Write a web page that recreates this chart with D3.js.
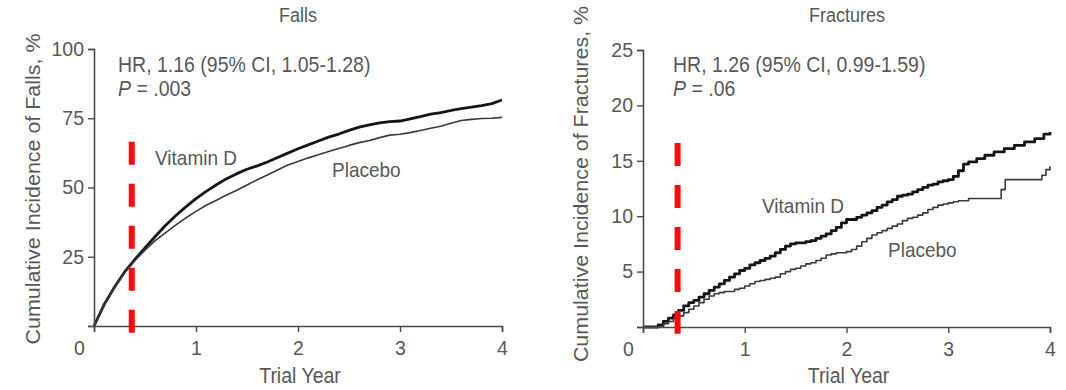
<!DOCTYPE html>
<html>
<head>
<meta charset="utf-8">
<script src="https://cdn.jsdelivr.net/npm/d3@7/dist/d3.min.js"></script>
<style>
  html, body { margin: 0; padding: 0; background: #fff; }
  svg { display: block; }
  text { font-family: "Liberation Sans", Arial, Helvetica, sans-serif; fill: #585858; }
</style>
</head>
<body>
<svg id="chart" width="1066" height="390"></svg>
<script>
// ---- Falls: cumulative incidence (%) by trial year ----
const fallsYears = [0, 0.1, 0.2, 0.3, 0.4, 0.5, 0.6, 0.7, 0.8, 0.9, 1.0,
  1.1, 1.2, 1.3, 1.4, 1.5, 1.6, 1.7, 1.8, 1.9, 2.0,
  2.1, 2.2, 2.3, 2.4, 2.5, 2.6, 2.7, 2.8, 2.9, 3.0,
  3.1, 3.2, 3.3, 3.4, 3.5, 3.6, 3.7, 3.8, 3.9, 4.0];
const fallsVitaminD = [0, 7.8, 14.0, 19.5, 24.0, 28.2, 32.3, 36.3, 39.8, 43.0, 46.0,
  48.6, 51.0, 53.2, 55.0, 56.6, 57.8, 59.2, 60.8, 62.4, 64.0,
  65.4, 66.8, 68.2, 69.3, 70.6, 71.8, 72.6, 73.3, 73.8, 74.0,
  74.8, 75.6, 76.5, 77.0, 77.8, 78.5, 79.0, 79.6, 80.3, 81.6];
const fallsPlacebo = [0, 7.5, 13.8, 19.2, 23.6, 27.4, 30.8, 33.6, 36.4, 39.0, 41.4,
  43.6, 45.4, 47.3, 49.0, 50.9, 52.8, 54.5, 56.3, 58.1, 59.4,
  60.7, 61.8, 63.0, 64.1, 65.2, 66.2, 67.0, 68.0, 68.9, 69.2,
  69.8, 70.6, 71.4, 72.1, 73.2, 74.2, 74.6, 74.9, 75.0, 75.3];

// ---- Fractures: cumulative incidence (%) by trial year (step functions) ----
const fracVitaminDYears = [0, 0.1, 0.15, 0.2, 0.25, 0.3, 0.35, 0.4, 0.45, 0.5, 0.55, 0.6, 0.65, 0.7, 0.75, 0.8,
  0.85, 0.9, 0.95, 1.0, 1.05, 1.1, 1.15, 1.2, 1.25, 1.3, 1.35, 1.4, 1.45, 1.5, 1.6, 1.65,
  1.7, 1.75, 1.8, 1.85, 1.9, 1.95, 2.0, 2.1, 2.15, 2.2, 2.25, 2.3, 2.35, 2.4, 2.45, 2.5,
  2.55, 2.6, 2.65, 2.7, 2.75, 2.8, 2.85, 2.9, 2.95, 3.0, 3.05, 3.1, 3.15, 3.2, 3.28, 3.36,
  3.45, 3.55, 3.65, 3.75, 3.85, 3.94, 4.0];
const fracVitaminD = [0, 0, 0.2, 0.5, 0.8, 1.1, 1.5, 1.9, 2.2, 2.4, 2.7, 3.0, 3.3, 3.6, 3.9, 4.2,
  4.5, 4.8, 5.1, 5.3, 5.6, 5.8, 6.0, 6.2, 6.4, 6.7, 7.0, 7.3, 7.5, 7.6, 7.7, 7.8,
  8.0, 8.2, 8.4, 8.7, 9.0, 9.4, 9.7, 9.9, 10.1, 10.3, 10.5, 10.8, 11.0, 11.3, 11.5, 11.8,
  11.9, 12.0, 12.2, 12.4, 12.6, 12.8, 12.9, 13.1, 13.2, 13.3, 13.6, 14.1, 14.7, 14.9, 15.2, 15.5,
  15.8, 16.1, 16.4, 16.7, 17.0, 17.4, 17.6];
const fracPlaceboYears = [0, 0.15, 0.2, 0.25, 0.3, 0.35, 0.4, 0.45, 0.5, 0.55, 0.6, 0.65, 0.7, 0.75, 0.8,
  0.9, 0.95, 1.0, 1.05, 1.1, 1.15, 1.2, 1.25, 1.3, 1.35, 1.4, 1.45, 1.5, 1.55, 1.6, 1.65,
  1.7, 1.75, 1.8, 1.85, 1.9, 2.0, 2.05, 2.1, 2.15, 2.2, 2.25, 2.3, 2.35, 2.4, 2.45, 2.5,
  2.55, 2.6, 2.65, 2.7, 2.75, 2.8, 2.85, 2.9, 2.95, 3.0, 3.05, 3.1, 3.2, 3.52, 3.56, 3.92,
  3.96, 4.0];
const fracPlacebo = [0, 0, 0.3, 0.5, 0.8, 1.0, 1.3, 1.6, 1.9, 2.2, 2.5, 2.8, 3.0, 3.1, 3.2,
  3.4, 3.5, 3.7, 3.9, 4.1, 4.2, 4.3, 4.4, 4.5, 4.8, 5.0, 5.2, 5.3, 5.5, 5.7, 5.8,
  6.0, 6.2, 6.5, 6.6, 6.7, 6.8, 7.0, 7.3, 7.7, 8.0, 8.3, 8.5, 8.7, 8.9, 9.1, 9.3,
  9.6, 9.8, 9.9, 10.1, 10.3, 10.6, 10.8, 11.0, 11.1, 11.2, 11.3, 11.4, 11.6, 12.4, 13.3, 13.7,
  14.2, 14.5];

// ---- Axis ticks and panel text ----
const yearTicks = [0, 1, 2, 3, 4];
const fallsTicks = [0, 25, 50, 75, 100];
const fracTicks = [0, 5, 10, 15, 20, 25];
const panelTitles = ["Falls", "Fractures"];
const yTitles = ["Cumulative Incidence of Falls, %", "Cumulative Incidence of Fractures, %"];
const hrTexts = ["HR, 1.16 (95% CI, 1.05-1.28)", "HR, 1.26 (95% CI, 0.99-1.59)"];
const pTexts = [" = .003", " = .06"];
const seriesNames = ["Vitamin D", "Placebo"];
// Reference marker drawn on each panel: trial year and vertical extent (%)
const markerYears = [0.37, 0.34];
const markerTop = [66.5, 16.6];
const markerBottom = [-2.5, -0.6];

const svg = d3.select("#chart");
const STRETCH = 1.1;

function put(g, x, y, str, size, anchor) {
  return g.append("text")
    .attr("transform", `translate(${x},${y}) scale(1,${STRETCH})`)
    .attr("text-anchor", anchor || "start")
    .style("font-size", size + "px")
    .text(str);
}

const panels = [
  {
    xRange: [94, 502], yRange: [326, 49], yMax: 100, yTicks: fallsTicks,
    series: [
      { x: fallsYears, y: fallsVitaminD, w: 2.8, c: "#151515", curve: d3.curveLinear },
      { x: fallsYears, y: fallsPlacebo, w: 1.6, c: "#3a3a3a", curve: d3.curveLinear }
    ],
    labelPos: [[155, 165], [332, 177]],
    titleX: 298, yTitleX: 40, yTitleY: 189, noteX: 118
  },
  {
    xRange: [643, 1050], yRange: [327, 50], yMax: 25, yTicks: fracTicks,
    series: [
      { x: fracVitaminDYears, y: fracVitaminD, w: 2.8, c: "#151515", curve: d3.curveStepAfter },
      { x: fracPlaceboYears, y: fracPlacebo, w: 1.6, c: "#3a3a3a", curve: d3.curveStepAfter }
    ],
    labelPos: [[762, 213], [888, 257]],
    titleX: 847, yTitleX: 588, yTitleY: 184, noteX: 673
  }
];

panels.forEach((p, i) => {
  const g = svg.append("g");
  const x = d3.scaleLinear().domain([0, 4]).range(p.xRange);
  const y = d3.scaleLinear().domain([0, p.yMax]).range(p.yRange);

  // Curves
  p.series.forEach(s => {
    const pts = s.x.map((t, k) => [t, s.y[k]]);
    g.append("path")
      .datum(pts)
      .attr("fill", "none")
      .attr("stroke", s.c)
      .attr("stroke-width", s.w)
      .attr("stroke-linejoin", "round")
      .attr("d", d3.line().x(d => x(d[0])).y(d => y(d[1])).curve(s.curve));
  });

  // Axes
  const yAxis = g.append("g")
    .attr("transform", `translate(${p.xRange[0]},0)`)
    .call(d3.axisLeft(y).tickValues(p.yTicks).tickSize(6).tickPadding(4)
      .tickFormat(d => d === 0 ? "" : d));
  const xAxis = g.append("g")
    .attr("transform", `translate(0,${p.yRange[0]})`)
    .call(d3.axisBottom(x).tickValues(yearTicks).tickSize(6).tickPadding(9)
      .tickFormat(d3.format("d")));
  [yAxis, xAxis].forEach(a => {
    a.select(".domain").attr("stroke", "#4a4a4a").attr("stroke-width", 1.6);
    a.selectAll(".tick line").attr("stroke", "#4a4a4a").attr("stroke-width", 1.4);
    a.selectAll(".tick text").style("font-size", "19.5px").attr("fill", "#5a5a5a")
      .style("font-family", "'Liberation Sans', Arial, sans-serif");
  });
  xAxis.selectAll(".tick text").filter(d => d === 0).attr("x", -15);

  // Titles
  put(g, p.titleX, 22, panelTitles[i], 18, "middle");
  put(g, (p.xRange[0] + p.xRange[1]) / 2 + 2, 383, "Trial Year", 19.5, "middle");
  g.append("text")
    .attr("transform", `translate(${p.yTitleX},${p.yTitleY}) rotate(-90) scale(${STRETCH},1)`)
    .attr("text-anchor", "middle")
    .style("font-size", "19.5px")
    .text(yTitles[i]);

  // Hazard ratio note
  put(g, p.noteX, 72, hrTexts[i], 19.5);
  const pt = put(g, p.noteX, 96, "", 19.5);
  pt.append("tspan").style("font-style", "italic").text("P");
  pt.append("tspan").text(pTexts[i]);

  // Series labels
  seriesNames.forEach((n, k) => put(g, p.labelPos[k][0], p.labelPos[k][1], n, 19));

  // Red dashed reference marker
  g.append("line")
    .attr("x1", x(markerYears[i])).attr("x2", x(markerYears[i]))
    .attr("y1", y(markerTop[i])).attr("y2", y(markerBottom[i]))
    .attr("stroke", "#ff0a0a")
    .attr("stroke-width", 6)
    .attr("stroke-dasharray", "23,19");
});
</script>
</body>
</html>
